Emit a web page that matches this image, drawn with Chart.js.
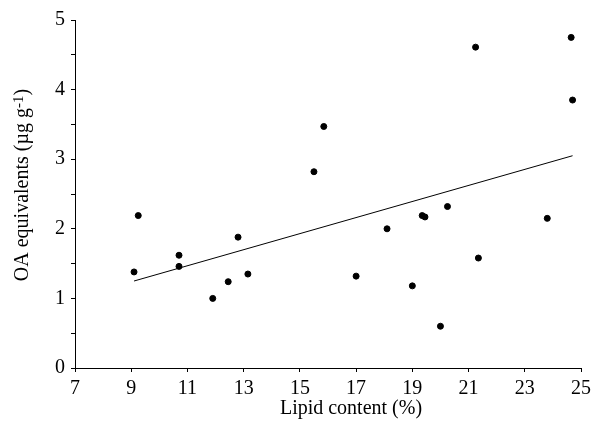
<!DOCTYPE html>
<html>
<head>
<meta charset="utf-8">
<script src="https://cdn.jsdelivr.net/npm/chart.js@4/dist/chart.umd.min.js"></script>
<style>
  html, body { margin: 0; padding: 0; background: #fff; }
  #wrap { width: 597px; height: 423px; }
</style>
</head>
<body>
<div id="wrap"><canvas id="chart-lipid"></canvas></div>
<script>
// lipid content (%) vs OA equivalents
const lipid = [9.1, 9.25, 10.7, 10.7, 11.9, 12.45, 12.8, 13.15, 15.5, 15.85, 17.0,
  18.1, 19.0, 19.35, 19.45, 20.0, 20.25, 21.25, 21.35, 23.8, 24.65, 24.7];
const oaEq = [1.38, 2.19, 1.62, 1.46, 1.0, 1.24, 1.88, 1.35, 2.82, 3.47, 1.32,
  2.0, 1.18, 2.19, 2.17, 0.6, 2.32, 4.61, 1.58, 2.15, 4.75, 3.85];

// fitted line ends
const trendX = [9.1, 24.7];
const trendY = [1.25, 3.05];

const xTicks = { min: 7, max: 25, step: 2 };
const yTicks = { min: 0, max: 5, step: 0.5 };

const xLabel = 'Lipid content (%)';
const yLabel = ['OA equivalents (\u00b5g g', '-1', ')'];

Chart.defaults.font.family = "'Liberation Serif', 'Times New Roman', serif";
Chart.defaults.color = '#000';

const points = lipid.map(function (x, i) { return { x: x, y: oaEq[i] }; });
const trend = trendX.map(function (x, i) { return { x: x, y: trendY[i] }; });

// axis titles drawn by hand: the -1 sits raised and the x title is off centre
const axisTitles = {
  id: 'axisTitles',
  afterDraw: function (chart) {
    const ctx = chart.ctx;
    const big = "20px 'Liberation Serif', serif";
    const small = "15px 'Liberation Serif', serif";
    ctx.save();
    ctx.fillStyle = '#000';
    ctx.textBaseline = 'middle';
    ctx.font = big;
    ctx.textAlign = 'center';
    ctx.fillText(xLabel, 351, 409);

    ctx.textAlign = 'left';
    ctx.translate(23, 185);
    ctx.rotate(-Math.PI / 2);
    ctx.font = big;
    const wa = ctx.measureText(yLabel[0]).width, wc = ctx.measureText(yLabel[2]).width;
    ctx.font = small;
    const wb = ctx.measureText(yLabel[1]).width;
    let x = -(wa + wb + wc) / 2;
    ctx.font = big;
    ctx.fillText(yLabel[0], x, 0);
    x += wa;
    ctx.font = small;
    ctx.fillText(yLabel[1], x, -4);
    x += wb;
    ctx.font = big;
    ctx.fillText(yLabel[2], x, 0);
    ctx.restore();
  }
};

new Chart(document.getElementById('chart-lipid'), {
  type: 'scatter',
  data: {
    datasets: [
      {
        label: 'samples',
        data: points,
        backgroundColor: '#000',
        borderColor: '#000',
        pointRadius: 3,
        pointHoverRadius: 3
      },
      {
        type: 'line',
        label: 'fit',
        data: trend,
        borderColor: '#000',
        borderWidth: 1,
        pointRadius: 0,
        fill: false
      }
    ]
  },
  options: {
    responsive: true,
    maintainAspectRatio: false,
    animation: false,
    layout: { padding: { left: 0, right: 16, top: 20, bottom: 0 } },
    plugins: {
      legend: { display: false },
      tooltip: { enabled: false }
    },
    scales: {
      x: {
        type: 'linear',
        min: xTicks.min,
        max: xTicks.max,
        afterFit: function (s) { s.height = 55; },
        ticks: { stepSize: xTicks.step, padding: 5, font: { size: 20 } },
        grid: { drawOnChartArea: false, drawTicks: true, tickLength: 4, color: '#000' },
        border: { display: true, color: '#000', width: 1 }
      },
      y: {
        min: yTicks.min,
        max: yTicks.max,
        afterFit: function (s) { s.width = 75; },
        ticks: {
          stepSize: yTicks.step,
          padding: 6,
          font: { size: 20 },
          callback: function (v) { return Number.isInteger(v) ? v : ''; }
        },
        grid: { drawOnChartArea: false, drawTicks: true, tickLength: 4, color: '#000' },
        border: { display: true, color: '#000', width: 1 }
      }
    }
  },
  plugins: [axisTitles]
});
</script>
</body>
</html>
